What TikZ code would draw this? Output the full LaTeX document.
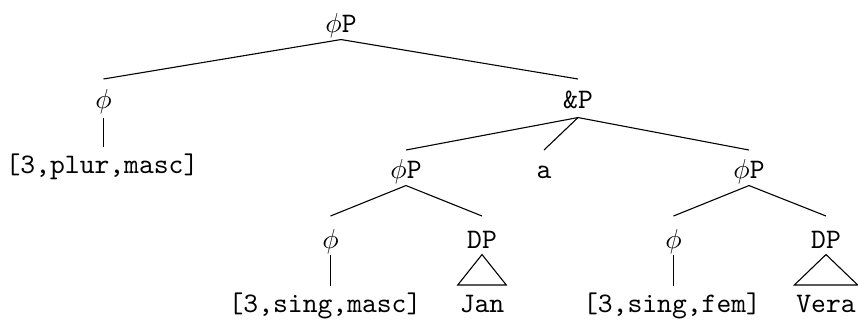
\documentclass[tikz,border=0pt]{standalone}
\usetikzlibrary{calc}
\begin{document}
\begin{tikzpicture}[x=0.3646pt,y=-0.3646pt,
  lbl/.style={anchor=base,inner sep=0pt,text height=0.68em,text depth=0.2em,font=\fontsize{10.3}{12}\selectfont\ttfamily},
  edgeline/.style={line width=0.4pt}]
\useasboundingbox (0,0) rectangle (858,321);
% nodes
\node[lbl] (root)  at (341,32)  {$\phi$P};
\node[lbl] (phiA)  at (103.5,108) {$\phi$};
\node[lbl] (andP)  at (578,108) {\&P};
\node[lbl] (featA) at (102,173) {[3,plur,masc]};
\node[lbl] (phiPB) at (406,178) {$\phi$P};
\node[lbl] (conj)  at (544,178) {a};
\node[lbl] (phiPC) at (749,178) {$\phi$P};
\node[lbl] (phiB)  at (330.5,248) {$\phi$};
\node[lbl] (DPB)   at (482,248) {DP};
\node[lbl] (phiC)  at (673.5,248) {$\phi$};
\node[lbl] (DPC)   at (826,248) {DP};
\node[lbl] (featB) at (325,312) {[3,sing,masc]};
\node[lbl] (jan)   at (482,312) {Jan};
\node[lbl] (featC) at (672,312) {[3,sing,fem]};
\node[lbl] (vera)  at (826,312) {Vera};
% edges
\newcommand\treeedge[4]{\draw[edgeline] ($(#1.south)+(0,#3)$) -- ($(#2.north)+(0,-#4)$);}
\newcommand\unaryedge[4]{\draw[edgeline] ($(#1.south)+(0,#3)$) -- ($(#1.south |- #2.north)+(0,-#4)$);}
\treeedge{root}{phiA}{1.5}{9.8}
\treeedge{root}{andP}{1.5}{9.8}
\treeedge{andP}{phiPB}{3.5}{8.8}
\treeedge{andP}{conj}{3.5}{8.8}
\treeedge{andP}{phiPC}{3.5}{8.8}
\unaryedge{phiA}{featA}{3.5}{6.8}
\treeedge{phiPB}{phiB}{1.5}{12.8}
\treeedge{phiPB}{DPB}{1.5}{12.8}
\treeedge{phiPC}{phiC}{1.5}{12.8}
\treeedge{phiPC}{DPC}{1.5}{12.8}
\unaryedge{phiB}{featB}{0.5}{6.8}
\unaryedge{phiC}{featC}{0.5}{6.8}
% triangles
\draw[edgeline] ($(DPB.south)+(0,0.5)$) -- ($(jan.north west)+(-1.5,-7.8)$) -- ($(jan.north east)+(1.5,-7.8)$) -- cycle;
\draw[edgeline] ($(DPC.south)+(0,0.5)$) -- ($(vera.north west)+(-1.5,-7.8)$) -- ($(vera.north east)+(1.5,-7.8)$) -- cycle;
\end{tikzpicture}
\end{document}
